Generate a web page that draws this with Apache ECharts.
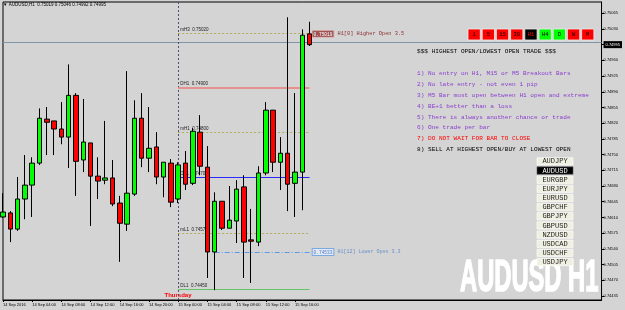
<!DOCTYPE html>
<html><head><meta charset="utf-8">
<script src="https://cdn.jsdelivr.net/npm/echarts@6/dist/echarts.min.js"></script>
<style>html,body{margin:0;padding:0;background:#d4d4d4;}#c{width:625px;height:310px;}</style>
</head><body><div id="c"></div>
<script>
// ---------- data ----------
const categories = [
  '14 Sep 2016','14 Sep 01:00','14 Sep 02:00','14 Sep 03:00','14 Sep 04:00','14 Sep 05:00','14 Sep 06:00','14 Sep 07:00',
  '14 Sep 08:00','14 Sep 09:00','14 Sep 10:00','14 Sep 11:00','14 Sep 12:00','14 Sep 13:00','14 Sep 14:00','14 Sep 15:00',
  '14 Sep 16:00','14 Sep 17:00','14 Sep 18:00','14 Sep 19:00','14 Sep 20:00','14 Sep 21:00','14 Sep 22:00','14 Sep 23:00',
  '15 Sep 00:00','15 Sep 01:00','15 Sep 02:00','15 Sep 03:00','15 Sep 04:00','15 Sep 05:00','15 Sep 06:00','15 Sep 07:00',
  '15 Sep 08:00','15 Sep 09:00','15 Sep 10:00','15 Sep 11:00','15 Sep 12:00','15 Sep 13:00','15 Sep 14:00','15 Sep 15:00',
  '15 Sep 16:00','15 Sep 17:00','15 Sep 18:00'
];
const opens  = [0.74611,0.74620,0.74584,0.74651,0.74682,0.74731,0.74829,0.74825,0.74807,0.74789,0.74882,0.74738,0.74776,0.74702,0.74693,0.74698,0.74642,0.74595,0.74662,0.74831,0.74742,0.74767,0.74700,0.74731,0.74651,0.74731,0.74686,0.74800,0.74722,0.74533,0.74646,0.74586,0.74602,0.74678,0.74560,0.74555,0.74709,0.74849,0.74733,0.74753,0.74686,0.74711,0.75019];
const highs  = [0.74664,0.74624,0.74700,0.74749,0.74744,0.74853,0.74856,0.74825,0.74867,0.74951,0.74887,0.74874,0.74776,0.74744,0.74825,0.74738,0.74658,0.74936,0.74871,0.74887,0.74856,0.74800,0.74733,0.74740,0.74733,0.74758,0.74809,0.74838,0.74769,0.74666,0.74646,0.74680,0.74693,0.74704,0.74629,0.74724,0.74867,0.74849,0.74789,0.75056,0.74887,0.75029,0.75046];
const lows   = [0.74609,0.74555,0.74580,0.74606,0.74611,0.74727,0.74749,0.74749,0.74773,0.74720,0.74658,0.74711,0.74591,0.74651,0.74684,0.74635,0.74511,0.74580,0.74658,0.74722,0.74711,0.74684,0.74655,0.74633,0.74642,0.74671,0.74682,0.74704,0.74475,0.74448,0.74582,0.74586,0.74553,0.74475,0.74464,0.74546,0.74704,0.74711,0.74671,0.74624,0.74611,0.74626,0.74992];
const closes = [0.74622,0.74584,0.74651,0.74682,0.74731,0.74831,0.74822,0.74807,0.74789,0.74882,0.74735,0.74778,0.74702,0.74691,0.74698,0.74640,0.74597,0.74664,0.74831,0.74742,0.74764,0.74700,0.74733,0.74644,0.74727,0.74684,0.74802,0.74724,0.74533,0.74646,0.74586,0.74604,0.74673,0.74555,0.74557,0.74709,0.74849,0.74733,0.74753,0.74684,0.74711,0.75016,0.74995];
const priceTicks = [0.75065,0.75030,0.74995,0.74960,0.74925,0.74890,0.74855,0.74820,0.74785,0.74750,0.74715,0.74680,0.74645,0.74610,0.74575,0.74540,0.74505,0.74470,0.74435];
const lastPrice = 0.74995;
const levelNames  = ['mH3','DH1','mH1','DP1','mL1','DL1'];
const levelValues = [0.75020,0.74900,0.74800,0.74700,0.74575,0.74450];
const higherOpen = 0.75019, higherOpenText = 'H1[0] Higher Open 3.5';
const lowerOpen = 0.74533, lowerOpenText = 'H1[12] Lower Open 3.3';
const lowerOpenStart = '15 Sep 05:00';
const dayStart = '15 Sep 00:00', dayName = 'Thursday';
const timeframes = ['1','5','15','30','H1','H4','D','W','M'];
const tfStates   = ['off','off','off','off','cur','on','on','off','off'];
const symbols = ['AUDJPY','AUDUSD','EURGBP','EURJPY','EURUSD','GBPCHF','GBPJPY','GBPUSD','NZDUSD','USDCAD','USDCHF','USDJPY'];
const currentSymbol = 'AUDUSD';
const rulesTitle = '$$$ HIGHEST OPEN/LOWEST OPEN TRADE $$$';
const rules = [
  '1) No entry on H1, M15 or M5 Breakout Bars',
  '2) No late entry - not even 1 pip',
  '3) M5 Bar must open between H1 open and extreme',
  '4) BE+1 better than a loss',
  '5) There is always another chance or trade',
  '6) One trade per bar',
  '7) DO NOT WAIT FOR BAR TO CLOSE',
  '8) SELL AT HIGHEST OPEN/BUY AT LOWEST OPEN'
];
const header = 'AUDUSD,H1  0.75019 0.75046 0.74992 0.74995';
const watermark = 'AUDUSD H1';

// ---------- build ----------
const slotCount = 83;
const xData = categories.concat(Array.from({length: slotCount - categories.length}, (_, i) => ' '.repeat(i + 1)));
const candles = categories.map((c, i) => [opens[i], closes[i], lows[i], highs[i]]);
const lastCat = categories[categories.length - 1];
const prevCat = categories[categories.length - 2];
const showIdx = (idx) => idx % 4 === 0 && idx < categories.length;

const levelStyles = [
  {color:'#b0b05a', type:[2,2], width:1},
  {color:'#e69090', type:'solid', width:2},
  {color:'#b0b05a', type:[2,2], width:1},
  {color:'#2a2aff', type:'solid', width:1},
  {color:'#b0b05a', type:[2,2], width:1},
  {color:'#66c266', type:'solid', width:1}
];
const mono = '"Liberation Mono", monospace';
const sans = '"Liberation Sans", Arial, sans-serif';

const markData = [];
markData.push({yAxis: lastPrice, lineStyle:{color:'#8094a8', width:1, type:'solid'}, label:{show:false}});
markData.push({xAxis: dayStart, lineStyle:{color:'#50506a', width:1, type:[2,2]}, label:{show:false}});
levelNames.forEach((n, i) => {
  markData.push([
    {coord:[dayStart, levelValues[i]], lineStyle: levelStyles[i],
     label:{show:true, position:'insideStartTop', formatter: n + '  ' + levelValues[i].toFixed(5), fontSize:4.5, fontFamily:sans, color:'#202020', distance:[2,1]}},
    {coord:[lastCat, levelValues[i]]}
  ]);
});
markData.push([
  {coord:[lowerOpenStart, lowerOpen], lineStyle:{color:'#5a9ae6', width:1, type:[5,2,1,2]},
   label:{show:true, position:'end', distance:3, formatter:'{box|' + lowerOpen.toFixed(5) + '}{txt|' + lowerOpenText + '}',
     rich:{box:{color:'#4a80d0', backgroundColor:'#e4e8f0', borderColor:'#5a9ae6', borderWidth:0.8, padding:[1,1,0,1], fontSize:4.5, fontFamily:mono},
           txt:{color:'#6a90c8', fontSize:5, fontFamily:mono, padding:[0,0,0,4]}}}},
  {coord:[lastCat, lowerOpen]}
]);
markData.push([
  {coord:[prevCat, higherOpen], lineStyle:{color:'rgba(0,0,0,0)', width:1, type:'solid'},
   label:{show:true, position:'end', distance:3, formatter:'{box|' + higherOpen.toFixed(5) + '}{txt|' + higherOpenText + '}',
     rich:{box:{color:'#ffffff', backgroundColor:'#a05555', borderColor:'#d8b0b0', borderWidth:0.8, padding:[1,1,0,1], fontSize:4.5, fontFamily:mono},
           txt:{color:'#8b3030', fontSize:5.3, fontFamily:mono, padding:[0,0,0,4]}}}},
  {coord:[lastCat, higherOpen]}
]);

// graphics (panel texts / buttons)
const graphics = [];
graphics.push({type:'text', x:460, y:301, scaleX:0.527, z:0, style:{text:watermark, fill:'#ffffff', stroke:'#ffffff', lineWidth:1.6, font:'bold 45px ' + sans, verticalAlign:'bottom', textVerticalAlign:'bottom'}});
graphics.push({type:'text', x:3, y:2, style:{text:'\u25BC ' + header, fill:'#000', font:'4.5px ' + sans}});
timeframes.forEach((t, i) => {
  const st = tfStates[i];
  const fill = st === 'cur' ? '#000000' : (st === 'on' ? '#00ff00' : '#ff0000');
  const x = 468 + i * 14.2;
  graphics.push({type:'rect', shape:{x:x, y:29, width:12.3, height:11}, style:{fill:fill, stroke:'#ececec', lineWidth:0.8}});
  graphics.push({type:'text', x:x + 6.15, y:34.7, style:{text:t, fill: st === 'cur' ? '#ff0000' : '#000', font:'5.5px ' + mono, align:'center', verticalAlign:'middle', textAlign:'center', textVerticalAlign:'middle'}});
});
graphics.push({type:'text', x:417, y:51, style:{text:rulesTitle, fill:'#000', font:'6.1px ' + mono, verticalAlign:'middle', textVerticalAlign:'middle'}});
rules.forEach((r, i) => {
  const col = i < 6 ? '#8a3ccf' : (i === 6 ? '#ff0000' : '#000000');
  graphics.push({type:'text', x:417, y:73.3 + i * 10.9, style:{text:r, fill:col, font:'6.1px ' + mono, verticalAlign:'middle', textVerticalAlign:'middle'}});
});
symbols.forEach((s, i) => {
  const cur = s === currentSymbol;
  const yc = 161.3 + i * 9.15;
  graphics.push({type:'rect', shape:{x:537, y:yc - 3.6, width:36, height:7.4}, style:{fill: cur ? '#000' : '#f0f0e2', stroke: cur ? '#555' : '#ffffff', lineWidth:0.6}});
  graphics.push({type:'text', x:555, y:yc + 0.3, style:{text:s, fill: cur ? '#fff' : '#222', font:'7px ' + mono, align:'center', verticalAlign:'middle', textAlign:'center', textVerticalAlign:'middle'}});
});
graphics.push({type:'text', x:178, y:295.5, style:{text:dayName, fill:'#ff0000', font:'bold 6px ' + sans, align:'center', verticalAlign:'middle', textAlign:'center', textVerticalAlign:'middle'}});

const chart = echarts.init(document.getElementById('c'), null, {renderer:'canvas'});
chart.setOption({
  animation:false,
  backgroundColor:'#d4d4d4',
  grid:{left:2, right:18, top:2, bottom:10, show:true, borderColor:'#000', borderWidth:1, backgroundColor:'transparent'},
  xAxis:{
    type:'category', data:xData, boundaryGap:false,
    axisLine:{show:true, lineStyle:{color:'#000', width:1}},
    axisTick:{show:true, interval:showIdx, length:2, lineStyle:{color:'#000'}},
    axisLabel:{interval:showIdx, fontSize:4, fontFamily:sans, color:'#000', align:'left', margin:2.5},
    splitLine:{show:false}
  },
  yAxis:{
    type:'value', position:'right', min:0.74426, max:0.75090, scale:true,
    axisLine:{show:true, lineStyle:{color:'#000', width:1}},
    axisTick:{show:true, length:3, customValues:priceTicks, lineStyle:{color:'#000'}},
    axisLabel:{customValues:priceTicks, fontSize:4, fontFamily:sans, color:'#000', margin:2,
      formatter:(v) => Math.abs(v - lastPrice) < 1e-9 ? '{hl|' + v.toFixed(5) + '}' : v.toFixed(5),
      rich:{hl:{backgroundColor:'#000', color:'#fff', fontSize:4, fontFamily:sans, padding:[1.5,2,1.5,2]}}},
    splitLine:{show:false}
  },
  series:[
    {type:'line', data:[], z:1, silent:true,
     markLine:{symbol:['none','none'], silent:true, animation:false, data:markData}},
    {type:'candlestick', data:candles, z:10, barWidth:5,
     itemStyle:{color:'#00ff00', color0:'#ff0000', borderColor:'#000', borderColor0:'#000', borderWidth:1}}
  ],
  graphic:graphics
});
</script></body></html>
